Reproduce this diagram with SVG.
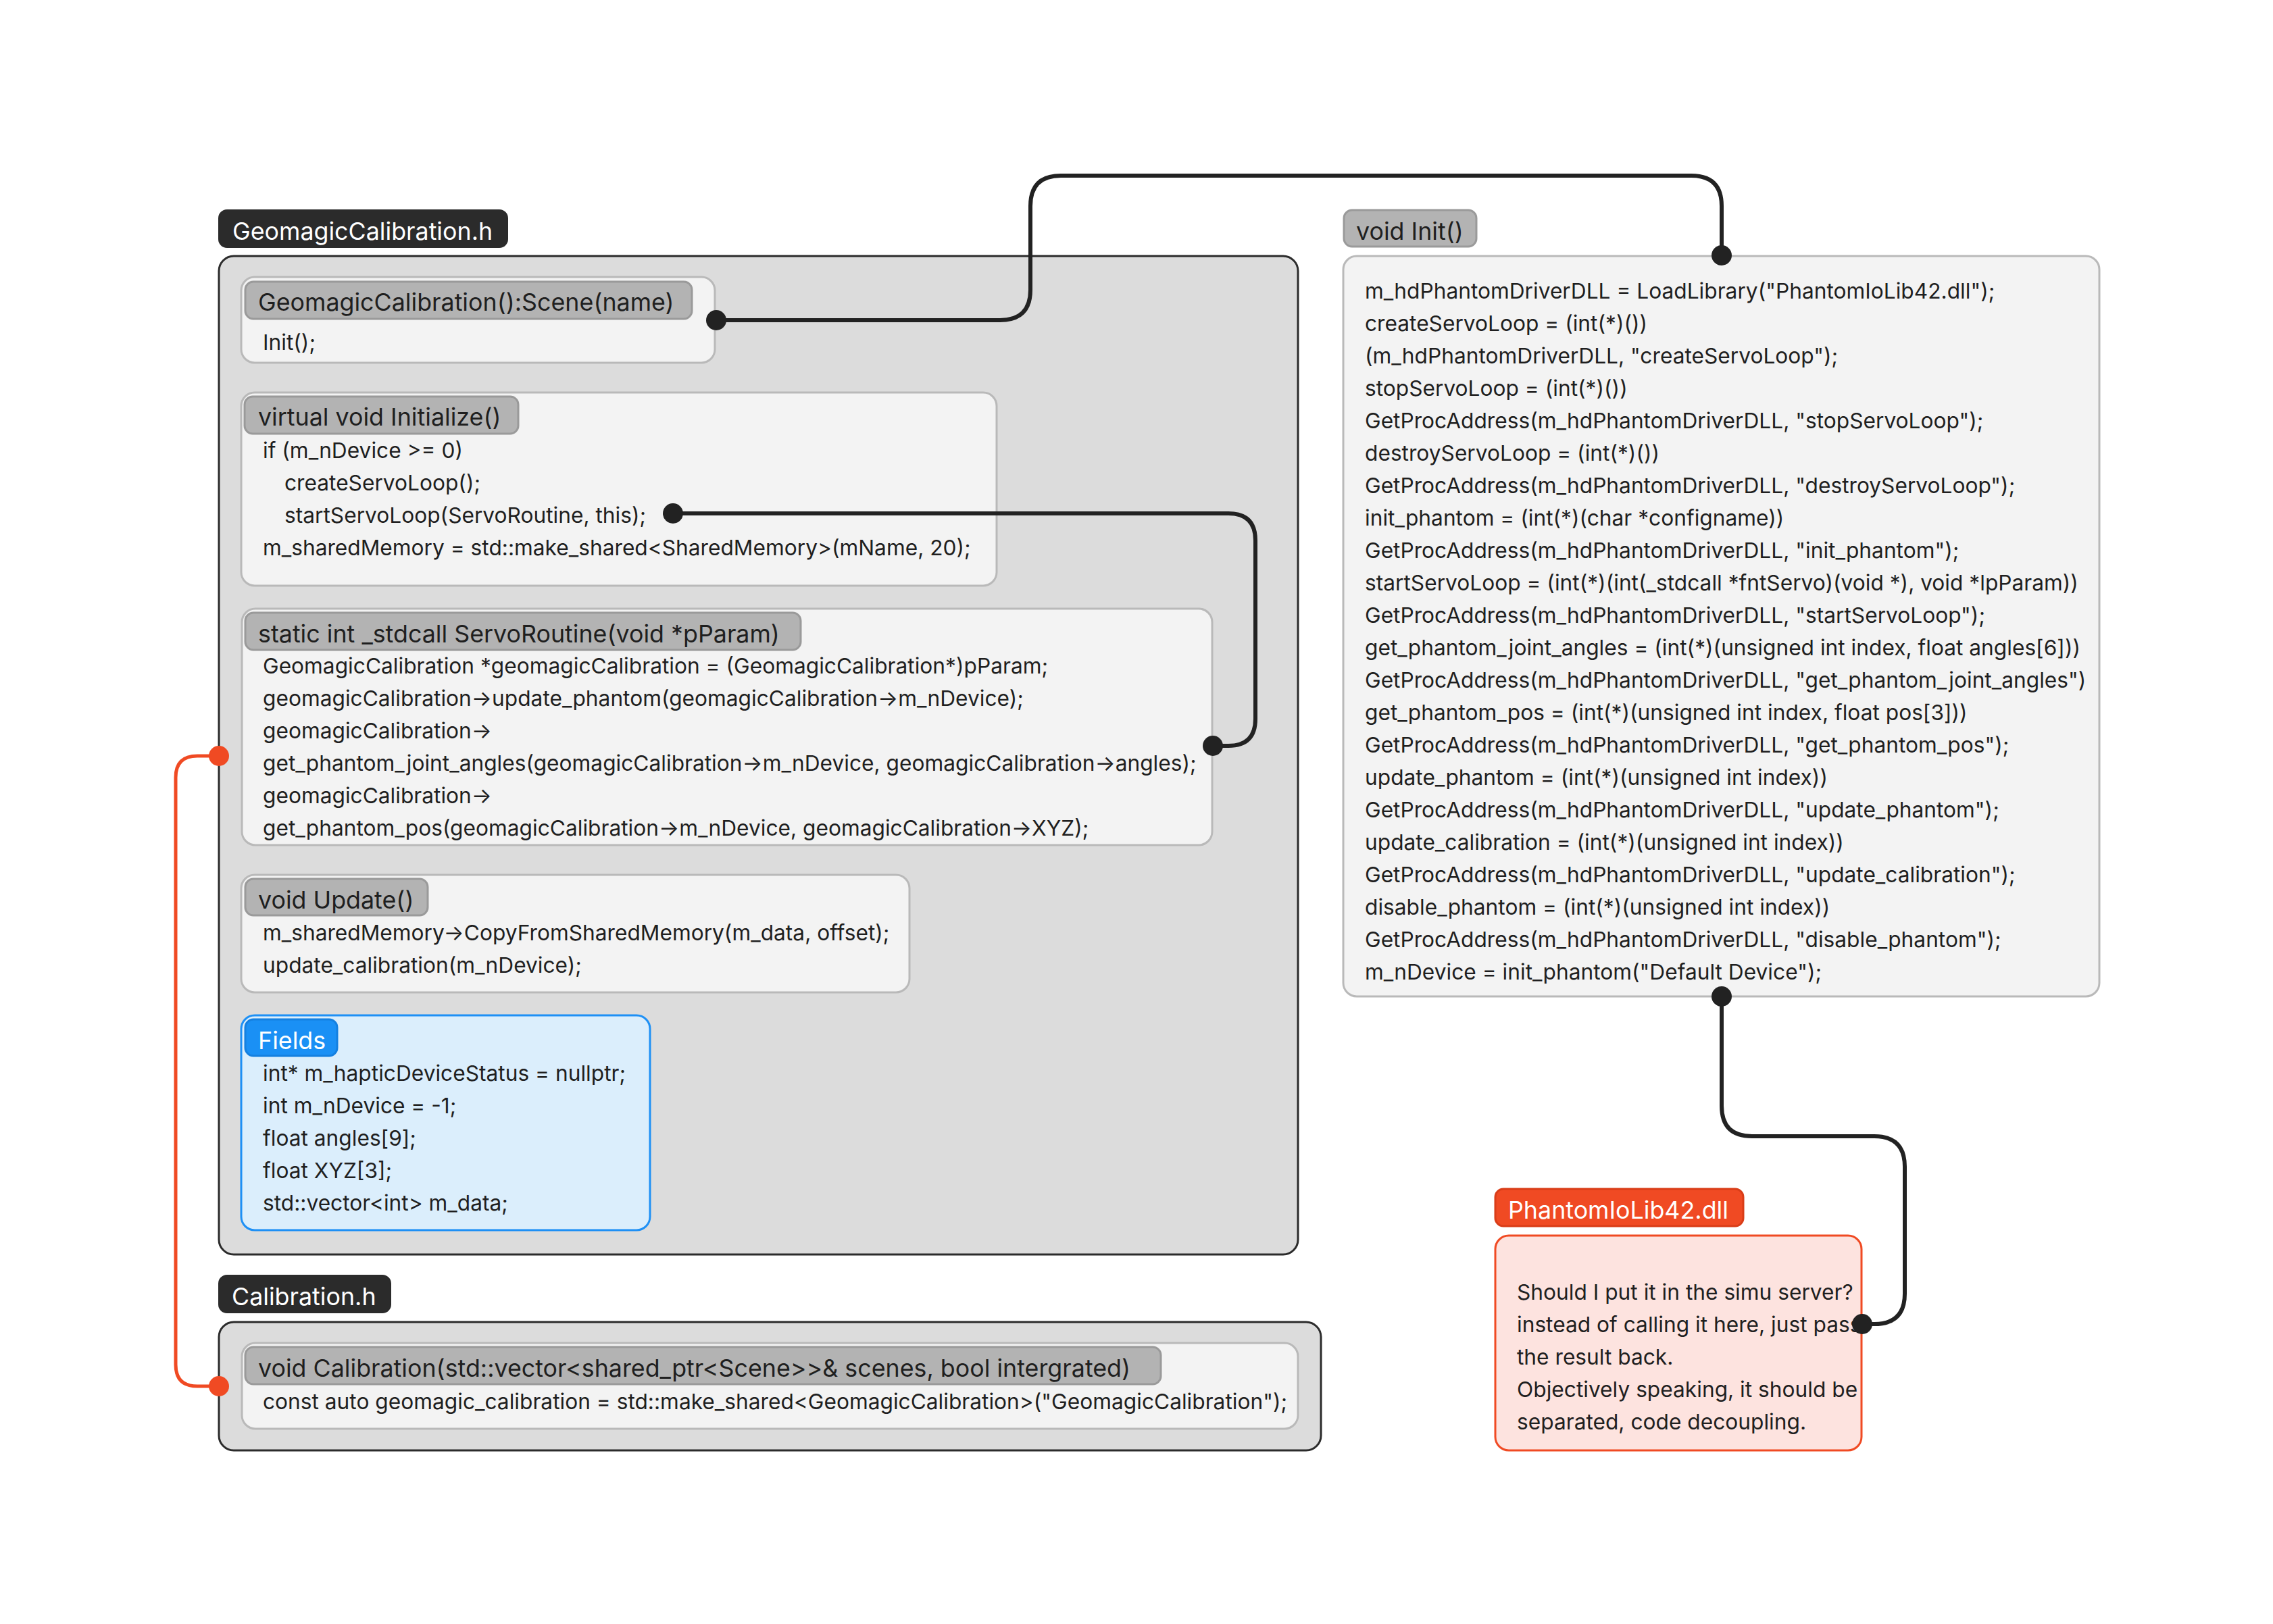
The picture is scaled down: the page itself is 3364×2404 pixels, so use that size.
<svg xmlns="http://www.w3.org/2000/svg" width="3364" height="2404" viewBox="0 0 3364 2404">
<style>
text{font-family:Inter,"Noto Sans","Liberation Sans",sans-serif;fill:#1f1f1f}
.body{font-size:31.7px}
.hd{font-size:35.8px}
.tabt{font-size:35.8px;fill:#ffffff}
.cont{fill:#dcdcdc;stroke:#2b2b2b;stroke-width:3}
.tab{fill:#2b2b2b;stroke:#2b2b2b;stroke-width:2}
.node{fill:#f3f3f3;stroke:#b9b9b9;stroke-width:3}
.head{fill:#b3b3b3;stroke:#9a9a9a;stroke-width:3}
.fnode{fill:#dbeefc;stroke:#1e90f5;stroke-width:3}
.fhead{fill:#1a90f5;stroke:#1580e0;stroke-width:3}
.nnode{fill:#fde3df;stroke:#f04a23;stroke-width:3}
.nhead{fill:#f04a23;stroke:#d93d18;stroke-width:3}
.wire{fill:none;stroke:#222222;stroke-width:6}
.rwire{fill:none;stroke:#f04a23;stroke-width:5}
.dot{fill:#222222}
.rdot{fill:#f04a23}
</style>
<rect width="3364" height="2404" fill="#ffffff"/>

<g id="group-geomagic">
<rect class="tab" x="324" y="311" width="427" height="55" rx="12"/>
<text class="tabt" x="344" y="355">GeomagicCalibration.h</text>
<rect class="cont" x="324" y="379" width="1597" height="1478" rx="22"/>
</g>

<g id="node-constructor">
<rect class="node" x="357" y="410" width="701" height="127" rx="20"/>
<rect class="head" x="363" y="417" width="661" height="55" rx="12"/>
<text class="hd" x="382" y="460">GeomagicCalibration():Scene(name)</text>
<text class="body" x="389" y="518">Init();</text>
</g>

<g id="node-initialize">
<rect class="node" x="357" y="581" width="1118" height="286" rx="20"/>
<rect class="head" x="362" y="587" width="405" height="55" rx="12"/>
<text class="hd" x="382" y="630">virtual void Initialize()</text>
<text class="body" x="389" y="678">if (m_nDevice &gt;= 0)</text>
<text class="body" x="421" y="726">createServoLoop();</text>
<text class="body" x="421" y="774">startServoLoop(ServoRoutine, this);</text>
<text class="body" x="389" y="822">m_sharedMemory = std::make_shared&lt;SharedMemory&gt;(mName, 20);</text>
</g>

<g id="node-servoroutine">
<rect class="node" x="358" y="901" width="1436" height="350" rx="20"/>
<rect class="head" x="363" y="907" width="822" height="55" rx="12"/>
<text class="hd" x="382" y="951">static int _stdcall ServoRoutine(void *pParam)</text>
<text class="body" x="389" y="997">GeomagicCalibration *geomagicCalibration = (GeomagicCalibration*)pParam;</text>
<text class="body" x="389" y="1045">geomagicCalibration→update_phantom(geomagicCalibration→m_nDevice);</text>
<text class="body" x="389" y="1093">geomagicCalibration→</text>
<text class="body" x="389" y="1141">get_phantom_joint_angles(geomagicCalibration→m_nDevice, geomagicCalibration→angles);</text>
<text class="body" x="389" y="1189">geomagicCalibration→</text>
<text class="body" x="389" y="1237">get_phantom_pos(geomagicCalibration→m_nDevice, geomagicCalibration→XYZ);</text>
</g>

<g id="node-update">
<rect class="node" x="357" y="1295" width="989" height="174" rx="20"/>
<rect class="head" x="363" y="1301" width="270" height="54" rx="12"/>
<text class="hd" x="382" y="1345">void Update()</text>
<text class="body" x="389" y="1392">m_sharedMemory→CopyFromSharedMemory(m_data, offset);</text>
<text class="body" x="389" y="1440">update_calibration(m_nDevice);</text>
</g>

<g id="node-fields">
<rect class="fnode" x="357" y="1503" width="605" height="318" rx="20"/>
<rect class="fhead" x="363" y="1509" width="136" height="54" rx="12"/>
<text class="hd" x="382" y="1553" style="fill:#ffffff">Fields</text>
<text class="body" x="389" y="1600">int* m_hapticDeviceStatus = nullptr;</text>
<text class="body" x="389" y="1648">int m_nDevice = -1;</text>
<text class="body" x="389" y="1696">float angles[9];</text>
<text class="body" x="389" y="1744">float XYZ[3];</text>
<text class="body" x="389" y="1792">std::vector&lt;int&gt; m_data;</text>
</g>

<g id="group-calibration">
<rect class="tab" x="324" y="1888" width="254" height="55" rx="12"/>
<text class="tabt" x="343" y="1932">Calibration.h</text>
<rect class="cont" x="324" y="1957" width="1631" height="190" rx="22"/>
</g>

<g id="node-calibration">
<rect class="node" x="358" y="1988" width="1563" height="127" rx="20"/>
<rect class="head" x="363" y="1994" width="1355" height="55" rx="12"/>
<text class="hd" x="382" y="2038">void Calibration(std::vector&lt;shared_ptr&lt;Scene&gt;&gt;&amp; scenes, bool intergrated)</text>
<text class="body" x="389" y="2086">const auto geomagic_calibration = std::make_shared&lt;GeomagicCalibration&gt;("GeomagicCalibration");</text>
</g>

<g id="node-init">
<rect class="head" x="1989" y="311" width="196" height="54" rx="12"/>
<text class="hd" x="2007" y="355">void Init()</text>
<rect class="node" x="1988" y="379" width="1119" height="1096" rx="20"/>
<text class="body" x="2020" y="442">m_hdPhantomDriverDLL = LoadLibrary("PhantomIoLib42.dll");</text>
<text class="body" x="2020" y="490">createServoLoop = (int(*)())</text>
<text class="body" x="2020" y="538">(m_hdPhantomDriverDLL, "createServoLoop");</text>
<text class="body" x="2020" y="586">stopServoLoop = (int(*)())</text>
<text class="body" x="2020" y="634">GetProcAddress(m_hdPhantomDriverDLL, "stopServoLoop");</text>
<text class="body" x="2020" y="682">destroyServoLoop = (int(*)())</text>
<text class="body" x="2020" y="730">GetProcAddress(m_hdPhantomDriverDLL, "destroyServoLoop");</text>
<text class="body" x="2020" y="778">init_phantom = (int(*)(char *configname))</text>
<text class="body" x="2020" y="826">GetProcAddress(m_hdPhantomDriverDLL, "init_phantom");</text>
<text class="body" x="2020" y="874">startServoLoop = (int(*)(int(_stdcall *fntServo)(void *), void *lpParam))</text>
<text class="body" x="2020" y="922">GetProcAddress(m_hdPhantomDriverDLL, "startServoLoop");</text>
<text class="body" x="2020" y="970">get_phantom_joint_angles = (int(*)(unsigned int index, float angles[6]))</text>
<text class="body" x="2020" y="1018">GetProcAddress(m_hdPhantomDriverDLL, "get_phantom_joint_angles")</text>
<text class="body" x="2020" y="1066">get_phantom_pos = (int(*)(unsigned int index, float pos[3]))</text>
<text class="body" x="2020" y="1114">GetProcAddress(m_hdPhantomDriverDLL, "get_phantom_pos");</text>
<text class="body" x="2020" y="1162">update_phantom = (int(*)(unsigned int index))</text>
<text class="body" x="2020" y="1210">GetProcAddress(m_hdPhantomDriverDLL, "update_phantom");</text>
<text class="body" x="2020" y="1258">update_calibration = (int(*)(unsigned int index))</text>
<text class="body" x="2020" y="1306">GetProcAddress(m_hdPhantomDriverDLL, "update_calibration");</text>
<text class="body" x="2020" y="1354">disable_phantom = (int(*)(unsigned int index))</text>
<text class="body" x="2020" y="1402">GetProcAddress(m_hdPhantomDriverDLL, "disable_phantom");</text>
<text class="body" x="2020" y="1450">m_nDevice = init_phantom("Default Device");</text>
</g>

<g id="node-note">
<rect class="nhead" x="2213" y="1760" width="367" height="55" rx="12"/>
<text class="tabt" x="2232" y="1804">PhantomIoLib42.dll</text>
<rect class="nnode" x="2213" y="1829" width="542" height="318" rx="20"/>
<text class="body" x="2245" y="1924">Should I put it in the simu server?</text>
<text class="body" x="2245" y="1972">instead of calling it here, just pass</text>
<text class="body" x="2245" y="2020">the result back.</text>
<text class="body" x="2245" y="2068">Objectively speaking, it should be</text>
<text class="body" x="2245" y="2116">separated, code decoupling.</text>
</g>

<g id="connectors">
<path class="wire" d="M1060 474 H1480 Q1525 474 1525 429 V305 Q1525 260 1570 260 H2503 Q2548 260 2548 305 V378"/>
<circle class="dot" cx="1060" cy="474" r="15"/>
<circle class="dot" cx="2548" cy="378" r="15"/>
<path class="wire" d="M996 760 H1818 Q1858 760 1858 800 V1064 Q1858 1104 1818 1104 H1795"/>
<circle class="dot" cx="996" cy="760" r="15"/>
<circle class="dot" cx="1795" cy="1104" r="15"/>
<path class="wire" d="M2548 1475 V1637 Q2548 1682 2593 1682 H2774 Q2819 1682 2819 1727 V1915 Q2819 1960 2774 1960 H2756"/>
<circle class="dot" cx="2548" cy="1475" r="15"/>
<circle class="dot" cx="2756" cy="1960" r="15"/>
<path class="rwire" d="M324 1119 H292 Q260 1119 260 1151 V2020 Q260 2052 292 2052 H324"/>
<circle class="rdot" cx="324" cy="1119" r="15"/>
<circle class="rdot" cx="324" cy="2052" r="15"/>
</g>
</svg>
